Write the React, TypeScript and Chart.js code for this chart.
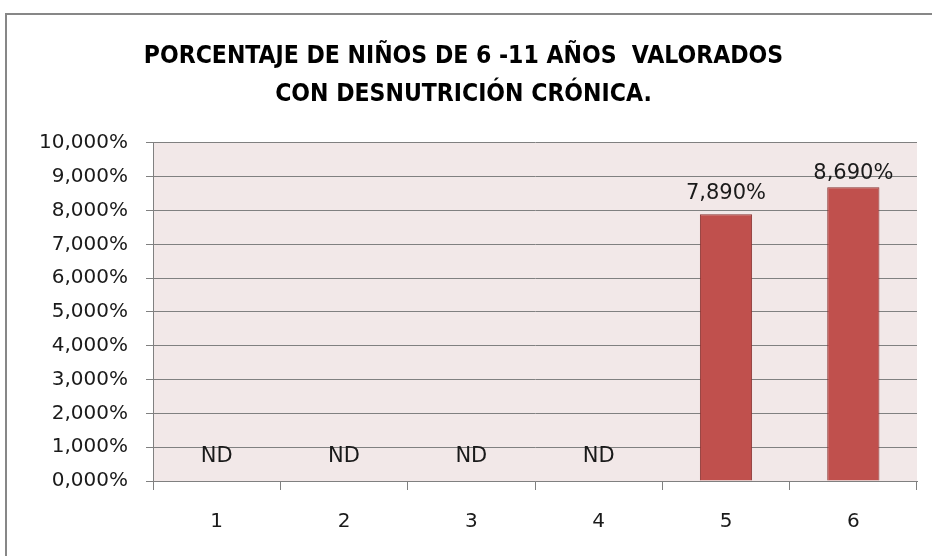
import React, { useEffect, useRef } from "react";
import { Chart, registerables } from "chart.js";

Chart.register(...registerables);

const categories = ["1", "2", "3", "4", "5", "6"];
const values = [0, 0, 0, 0, 7.89, 8.69];
const valueLabels = ["ND", "ND", "ND", "ND", "7,890%", "8,690%"];
const yTickLabels = [
  "0,000%", "1,000%", "2,000%", "3,000%", "4,000%", "5,000%",
  "6,000%", "7,000%", "8,000%", "9,000%", "10,000%",
];
const titleLines = [
  "PORCENTAJE DE NIÑOS DE 6 -11 AÑOS  VALORADOS",
  "CON DESNUTRICIÓN CRÓNICA.",
];

const labelOffsets = [24, 24, 24, 24, 21, 14];

const PAD_LEFT = 10;
const PAD_RIGHT = 15;
const PAD_TOP = 10;
const PAD_BOTTOM = 0;

const framePlugin = {
  id: "framePlugin",
  beforeDraw(chart: any) {
    const { ctx, chartArea, width, height } = chart;
    ctx.save();
    ctx.fillStyle = "#ffffff";
    ctx.fillRect(0, 0, width, height);
    ctx.strokeStyle = "#878787";
    ctx.lineWidth = 2;
    ctx.strokeRect(6, 14, width + 20, height + 20);
    ctx.fillStyle = "#f2e8e8";
    ctx.fillRect(chartArea.left, chartArea.top, chartArea.right - chartArea.left, chartArea.bottom - chartArea.top);
    ctx.restore();
  },
};

const labelPlugin = {
  id: "labelPlugin",
  afterDatasetsDraw(chart: any) {
    const { ctx } = chart;
    const meta = chart.getDatasetMeta(0);
    ctx.save();
    ctx.font = "21px 'DejaVu Sans'";
    ctx.fillStyle = "#1a1a1a";
    ctx.textAlign = "center";
    ctx.textBaseline = "middle";
    meta.data.forEach((el: any, i: number) => {
      ctx.fillText(valueLabels[i], el.x, el.y - labelOffsets[i]);
    });
    ctx.restore();
  },
};

export default function App() {
  const ref = useRef<HTMLCanvasElement>(null);
  useEffect(() => {
    if (!ref.current) return;
    const chart = new Chart(ref.current, {
      type: "bar",
      data: {
        labels: categories,
        datasets: [
          {
            data: values,
            backgroundColor: "#c0504d",
            borderColor: "#8a3432",
            borderWidth: 1,
            barPercentage: 0.41,
            categoryPercentage: 1,
          },
        ],
      },
      options: {
        animation: false,
        responsive: false,
        maintainAspectRatio: false,
        layout: { padding: { left: PAD_LEFT, right: PAD_RIGHT, top: PAD_TOP, bottom: PAD_BOTTOM } },
        plugins: {
          legend: { display: false },
          tooltip: { enabled: false },
          title: {
            display: true,
            text: titleLines,
            color: "#000000",
            font: { family: "'DejaVu Sans Condensed', 'DejaVu Sans'", size: 24.5, weight: "bold", lineHeight: 1.55 },
            padding: { top: 28, bottom: 29 },
          },
        },
        scales: {
          x: {
            grid: {
              display: true,
              drawOnChartArea: false,
              drawTicks: true,
              tickLength: 9,
              tickColor: "#808080",
              offset: true,
            },
            border: { display: true, color: "#808080", width: 1 },
            ticks: {
              color: "#1a1a1a",
              font: { family: "'DejaVu Sans'", size: 20 },
              padding: 20,
            },
            afterFit(scale: any) {
              scale.height = 556 - 481 - PAD_BOTTOM;
            },
          },
          y: {
            min: 0,
            max: 10,
            ticks: {
              stepSize: 1,
              color: "#1a1a1a",
              font: { family: "'DejaVu Sans'", size: 20 },
              padding: 18,
              callback: (_v: any, i: number) => yTickLabels[i],
            },
            grid: {
              color: "#808080",
              lineWidth: 1,
              tickLength: 7,
              tickColor: "#808080",
            },
            border: { display: true, color: "#808080", width: 1 },
            afterFit(scale: any) {
              scale.width = 153 - PAD_LEFT;
            },
          },
        },
      },
      plugins: [framePlugin, labelPlugin],
    });
    return () => chart.destroy();
  }, []);
  return (
    <div style={{ position: "fixed", left: 0, top: 0, width: 932, height: 556 }}>
      <canvas ref={ref} width={932} height={556} style={{ width: 932, height: 556, display: "block" }} />
    </div>
  );
}
